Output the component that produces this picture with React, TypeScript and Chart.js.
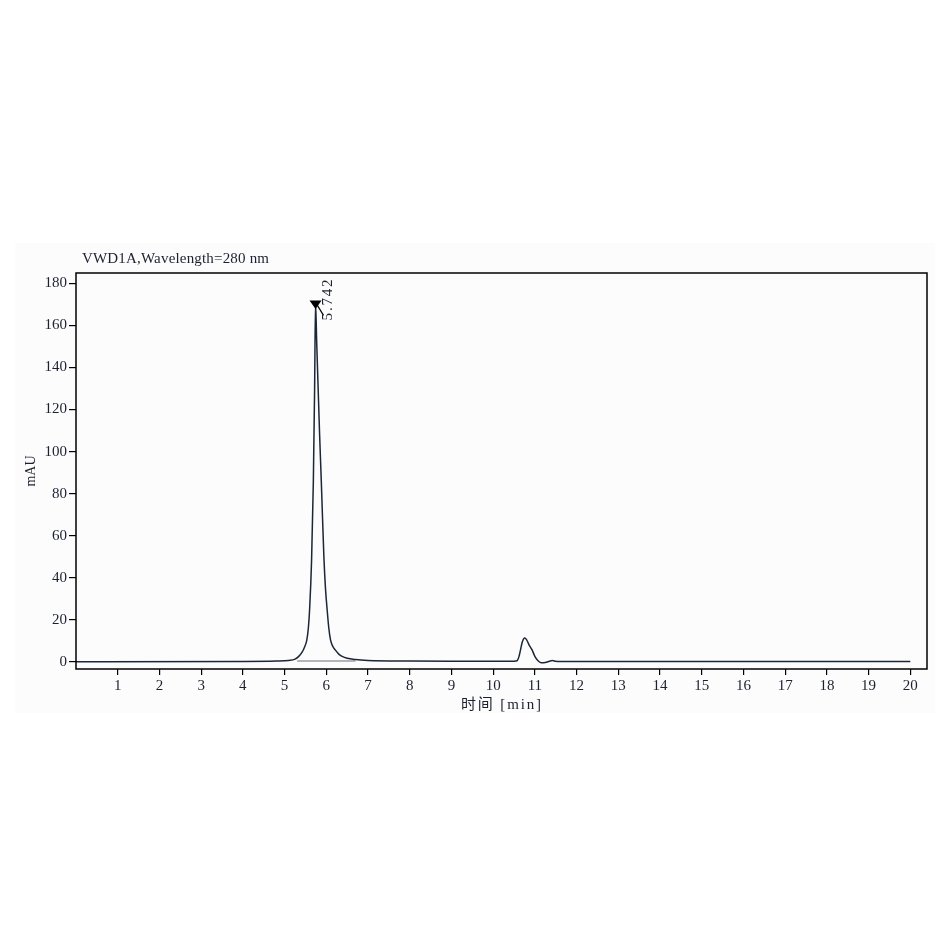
import React, { useEffect, useRef } from "react";
import { Chart, registerables } from "chart.js";

Chart.register(...registerables);

// ---- data ----
const timeMin = [
  0, 4.0, 4.8, 5.1, 5.25, 5.34, 5.42, 5.48, 5.53, 5.57, 5.6, 5.647, 5.69, 5.72, 5.742,
  5.77, 5.8, 5.84, 5.88, 5.942, 5.98, 6.02, 6.06, 6.1, 6.15, 6.21, 6.3, 6.38, 6.5, 6.7,
  7.0, 8.0, 9.0, 10.5, 10.57, 10.62, 10.66, 10.7, 10.757, 10.8, 10.86, 10.93, 11.0, 11.07,
  11.15, 11.25, 11.35, 11.42, 11.5, 11.6, 20,
];
const signalMAU = [
  0, 0.1, 0.3, 0.6, 1.2, 2.5, 4.5, 7, 10, 16, 24.8, 48, 86, 130, 171,
  152, 133, 108, 86, 50, 35, 24.8, 16, 10.5, 7.5, 5.7, 3.6, 2.5, 1.6, 1.0,
  0.6, 0.3, 0.2, 0.2, 0.4, 2.5, 6, 9.5, 11.3, 10.5, 8, 5.7, 2.5, 0.5,
  -0.5, -0.4, 0.2, 0.5, 0.2, 0.1, 0.1,
];
const integrationBaseX = [5.3, 6.7];
const integrationBaseY = [0.3, 0.3];
const peakTimes = [5.742];
const peakHeights = [171];
const peakLabels = ["5.742"];
const xTicks = [1, 2, 3, 4, 5, 6, 7, 8, 9, 10, 11, 12, 13, 14, 15, 16, 17, 18, 19, 20];
const yTicks = [0, 20, 40, 60, 80, 100, 120, 140, 160, 180];
const chartTitle = "VWD1A,Wavelength=280 nm";
const xTitle = "时间 [min]";
const yTitle = "mAU";

const SERIF = '"Liberation Serif", "DejaVu Serif", serif';
const CJK = '"Liberation Serif", "Noto Sans CJK SC", serif';
const TEXT = "#1c2030";

// draw text stretched to a target width via letter spacing
function drawFit(ctx: CanvasRenderingContext2D, text: string, x: number, y: number, targetW: number, font: string) {
  ctx.font = font;
  (ctx as any).letterSpacing = "0px";
  const w = ctx.measureText(text).width;
  const n = [...text].length;
  const sp = n > 1 ? Math.max(0, (targetW - w) / (n - 1)) : 0;
  (ctx as any).letterSpacing = `${sp}px`;
  ctx.fillText(text, x, y);
  (ctx as any).letterSpacing = "0px";
}

const decorPlugin = {
  id: "decor",
  beforeDraw(chart: any) {
    const ctx = chart.ctx;
    ctx.save();
    ctx.fillStyle = "#ffffff";
    ctx.fillRect(0, 0, chart.width, chart.height);
    ctx.fillStyle = "#fcfcfc";
    ctx.fillRect(15, 243, 920, 470);
    ctx.restore();
  },
  afterDraw(chart: any) {
    const ctx: CanvasRenderingContext2D = chart.ctx;
    const { left, right, top, bottom } = chart.chartArea;
    const xs = chart.scales.x;
    const ys = chart.scales.y;
    ctx.save();
    // frame
    ctx.strokeStyle = "#000";
    ctx.lineWidth = 1.5;
    ctx.strokeRect(left, top, right - left, bottom - top);

    ctx.fillStyle = TEXT;
    ctx.textBaseline = "alphabetic";
    ctx.textAlign = "left";
    // chart title
    drawFit(ctx, chartTitle, 82, 263, 187, `15px ${SERIF}`);
    // x title
    drawFit(ctx, xTitle, 461, 709, 80, `15px ${CJK}`);
    // y title (rotated)
    ctx.save();
    ctx.translate(35, (top + bottom) / 2);
    ctx.rotate(-Math.PI / 2);
    ctx.font = `14px ${SERIF}`;
    ctx.textAlign = "center";
    ctx.fillText(yTitle, 0, 0);
    ctx.textAlign = "left";
    ctx.restore();

    // peak markers
    for (let i = 0; i < peakTimes.length; i++) {
      const px = xs.getPixelForValue(peakTimes[i]);
      const py = ys.getPixelForValue(peakHeights[i]);
      ctx.fillStyle = "#000";
      ctx.beginPath();
      ctx.moveTo(px - 6, py - 2);
      ctx.lineTo(px + 6, py - 2);
      ctx.lineTo(px, py + 6.5);
      ctx.closePath();
      ctx.fill();
      ctx.strokeStyle = "#000";
      ctx.lineWidth = 1.2;
      ctx.beginPath();
      ctx.moveTo(px, py);
      ctx.lineTo(px + 8, py + 13);
      ctx.stroke();
      // label
      ctx.save();
      ctx.translate(px + 16, py + 18);
      ctx.rotate(-Math.PI / 2);
      ctx.fillStyle = TEXT;
      drawFit(ctx, peakLabels[i], 0, 0, 41, `15px ${SERIF}`);
      ctx.restore();
    }
    ctx.restore();
  },
};

export default function App() {
  const ref = useRef<HTMLCanvasElement | null>(null);
  useEffect(() => {
    if (!ref.current) return;
    const trace = timeMin.map((t, i) => ({ x: t, y: signalMAU[i] }));
    const base = integrationBaseX.map((t, i) => ({ x: t, y: integrationBaseY[i] }));
    const chart = new Chart(ref.current, {
      type: "line",
      data: {
        datasets: [
          {
            data: base,
            borderColor: "#9a9ea5",
            borderWidth: 1.5,
            pointRadius: 0,
            order: 2,
          },
          {
            data: trace,
            borderColor: "#1b2636",
            borderWidth: 1.5,
            pointRadius: 0,
            cubicInterpolationMode: "monotone",
            order: 1,
          },
        ],
      },
      options: {
        animation: false,
        responsive: false,
        events: [],
        layout: { padding: { left: 0, top: 273, right: 23, bottom: 236 } },
        plugins: { legend: { display: false }, tooltip: { enabled: false } },
        scales: {
          x: {
            type: "linear",
            min: 0,
            max: 20.4,
            afterFit: (s: any) => {
              s.height = 45;
            },
            afterBuildTicks: (s: any) => {
              s.ticks = xTicks.map((v) => ({ value: v }));
            },
            grid: {
              display: true,
              drawOnChartArea: false,
              drawTicks: true,
              tickLength: 6,
              color: "#000",
              lineWidth: 1.2,
            },
            border: { display: false },
            ticks: {
              autoSkip: false,
              maxRotation: 0,
              padding: 2,
              color: TEXT,
              font: { family: SERIF, size: 15 },
            },
          },
          y: {
            type: "linear",
            min: -3.5,
            max: 185,
            afterFit: (s: any) => {
              s.width = 76;
            },
            afterBuildTicks: (s: any) => {
              s.ticks = yTicks.map((v) => ({ value: v }));
            },
            grid: {
              display: true,
              drawOnChartArea: false,
              drawTicks: true,
              tickLength: 7,
              color: "#000",
              lineWidth: 1.2,
            },
            border: { display: false },
            ticks: {
              autoSkip: false,
              padding: 2,
              color: TEXT,
              font: { family: SERIF, size: 15 },
            },
          },
        },
      },
      plugins: [decorPlugin],
    });
    return () => chart.destroy();
  }, []);
  return (
    <div style={{ position: "absolute", left: 0, top: 0, width: 950, height: 950 }}>
      <canvas ref={ref} width={950} height={950} style={{ width: 950, height: 950 }} />
    </div>
  );
}
